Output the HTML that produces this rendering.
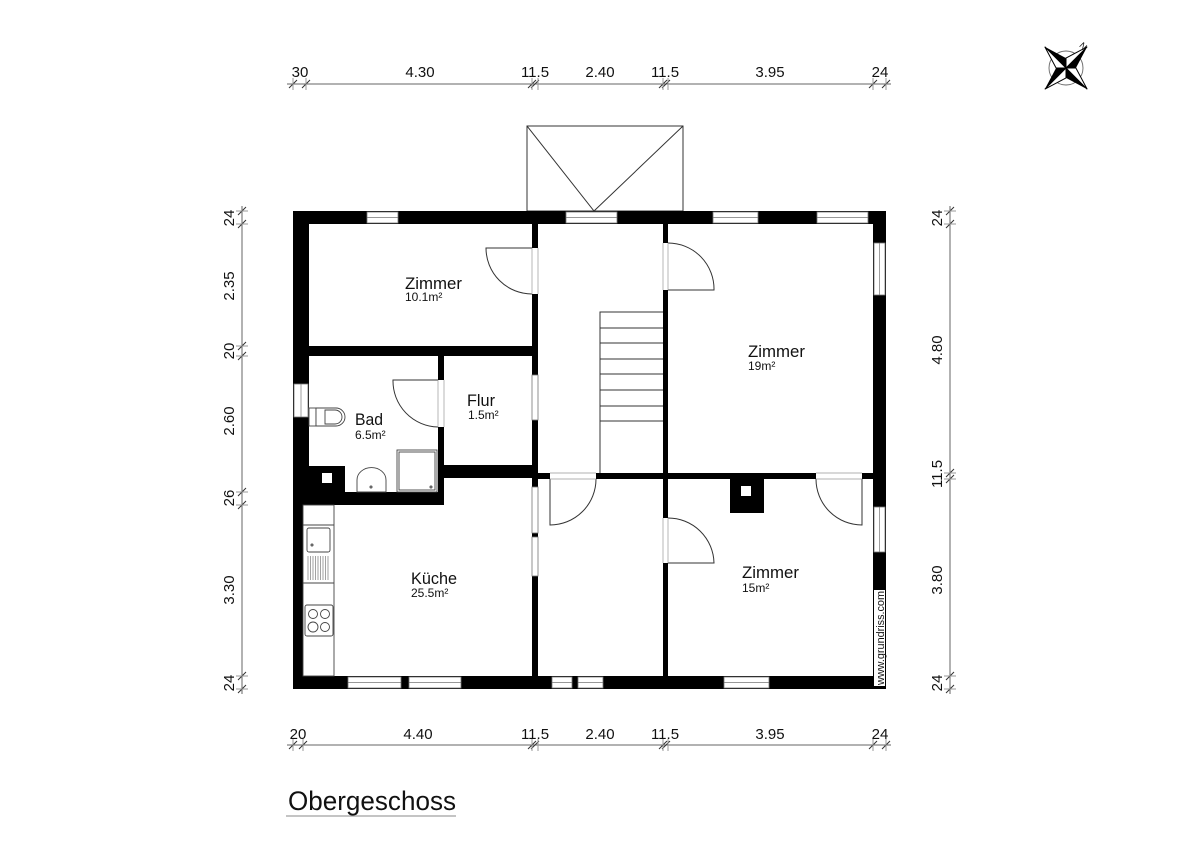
<!DOCTYPE html>
<html><head><meta charset="utf-8"><style>
html,body{margin:0;padding:0;background:#fff;}
svg{display:block}
text{font-family:"Liberation Sans Narrow","Liberation Sans",sans-serif;fill:#111}
</style></head><body>
<svg width="1200" height="855" viewBox="0 0 1200 855" xmlns="http://www.w3.org/2000/svg">
<rect width="1200" height="855" fill="#fff"/>

<!-- dimension lines -->
<g stroke="#666" stroke-width="1" fill="none">
<line x1="287" y1="84" x2="891" y2="84"/>
<line x1="287" y1="745" x2="891" y2="745"/>
<line x1="242" y1="206" x2="242" y2="694"/>
<line x1="950" y1="206" x2="950" y2="694"/>
</g>
<g stroke="#333" stroke-width="1">
<path d="M289,88 l8,-8 M302,88 l8,-8 M528,88 l8,-8 M531,88 l8,-8 M659,88 l8,-8 M662,88 l8,-8 M869,88 l8,-8 M882,88 l8,-8"/>
<path d="M293,78 v12 M306,78 v12 M532,78 v12 M538,78 v12 M663,78 v12 M668,78 v12 M873,78 v12 M886,78 v12" stroke="#999"/>
<path d="M289,749 l8,-8 M299,749 l8,-8 M528,749 l8,-8 M531,749 l8,-8 M659,749 l8,-8 M662,749 l8,-8 M869,749 l8,-8 M882,749 l8,-8"/>
<path d="M293,739 v12 M303,739 v12 M532,739 v12 M538,739 v12 M663,739 v12 M668,739 v12 M873,739 v12 M886,739 v12" stroke="#999"/>
<path d="M238,215 l8,-8 M238,228 l8,-8 M238,350 l8,-8 M238,360 l8,-8 M238,496 l8,-8 M238,509 l8,-8 M238,680 l8,-8 M238,693 l8,-8"/>
<path d="M236,211 h12 M236,224 h12 M236,346 h12 M236,356 h12 M236,492 h12 M236,505 h12 M236,676 h12 M236,689 h12" stroke="#999"/>
<path d="M946,215 l8,-8 M946,228 l8,-8 M946,477 l8,-8 M946,483 l8,-8 M946,680 l8,-8 M946,693 l8,-8"/>
<path d="M944,211 h12 M944,224 h12 M944,473 h12 M944,479 h12 M944,676 h12 M944,689 h12" stroke="#999"/>
</g>
<g font-size="15" text-anchor="middle">
<text x="300" y="77">30</text><text x="420" y="77">4.30</text><text x="535" y="77">11.5</text><text x="600" y="77">2.40</text><text x="665" y="77">11.5</text><text x="770" y="77">3.95</text><text x="880" y="77">24</text>
<text x="298" y="739">20</text><text x="418" y="739">4.40</text><text x="535" y="739">11.5</text><text x="600" y="739">2.40</text><text x="665" y="739">11.5</text><text x="770" y="739">3.95</text><text x="880" y="739">24</text>
<g transform="translate(234,0)">
<text transform="translate(0,218) rotate(-90)">24</text>
<text transform="translate(0,286) rotate(-90)">2.35</text>
<text transform="translate(0,351) rotate(-90)">20</text>
<text transform="translate(0,421) rotate(-90)">2.60</text>
<text transform="translate(0,498) rotate(-90)">26</text>
<text transform="translate(0,590) rotate(-90)">3.30</text>
<text transform="translate(0,683) rotate(-90)">24</text>
</g>
<g transform="translate(942,0)">
<text transform="translate(0,218) rotate(-90)">24</text>
<text transform="translate(0,350) rotate(-90)">4.80</text>
<text transform="translate(0,474) rotate(-90)">11.5</text>
<text transform="translate(0,580) rotate(-90)">3.80</text>
<text transform="translate(0,683) rotate(-90)">24</text>
</g>
</g>

<!-- canopy -->
<g stroke="#333" stroke-width="1" fill="none">
<rect x="527" y="126" width="156" height="85"/>
<path d="M527,126 L594,211 L683,126"/>
</g>

<!-- walls -->
<g fill="#000">
<rect x="293" y="211" width="593" height="13"/>
<rect x="293" y="676" width="593" height="13"/>
<rect x="293" y="211" width="16" height="294"/>
<rect x="293" y="490" width="10" height="199"/>
<rect x="873" y="211" width="13" height="478"/>
<rect x="532" y="211" width="6" height="478"/>
<rect x="663" y="211" width="5" height="478"/>
<rect x="309" y="346" width="229" height="10"/>
<rect x="438" y="346" width="6" height="159"/>
<rect x="444" y="465" width="94" height="13"/>
<rect x="293" y="492" width="151" height="13"/>
<rect x="293" y="466" width="52" height="39"/>
<rect x="532" y="473" width="354" height="6"/>
<rect x="730" y="473" width="34" height="40"/>
</g>
<rect x="322" y="473" width="10" height="10" fill="#fff"/>
<rect x="741" y="486" width="10" height="10" fill="#fff"/>

<!-- windows & openings -->
<g fill="#fff" stroke="#777" stroke-width="0.8">
<rect x="367" y="212" width="31" height="11"/><rect x="566" y="212" width="51" height="11"/><rect x="713" y="212" width="45" height="11"/><rect x="817" y="212" width="51" height="11"/>
<rect x="348" y="677" width="53" height="11"/><rect x="409" y="677" width="52" height="11"/><rect x="552" y="677" width="20" height="11"/><rect x="578" y="677" width="25" height="11"/><rect x="724" y="677" width="45" height="11"/>
<rect x="294" y="384" width="14" height="33"/>
<rect x="874" y="243" width="11" height="52"/><rect x="874" y="507" width="11" height="45"/>
<rect x="532" y="375" width="6" height="45"/><rect x="532" y="487" width="6" height="46"/><rect x="532" y="537" width="6" height="39"/>
</g>
<g stroke="#777" stroke-width="0.7">
<path d="M367,217.5 h31 M566,217.5 h51 M713,217.5 h45 M817,217.5 h51 M348,682.5 h53 M409,682.5 h52 M552,682.5 h20 M578,682.5 h25 M724,682.5 h45 M301,384 v33 M879.5,243 v52 M879.5,507 v45"/>
</g>
<!-- door gaps -->
<g fill="#fff">
<rect x="531" y="248" width="8" height="46"/>
<rect x="437" y="380" width="8" height="47"/>
<rect x="662" y="243" width="7" height="47"/>
<rect x="662" y="518" width="7" height="45"/>
<rect x="550" y="472" width="46" height="8"/>
<rect x="816" y="472" width="46" height="8"/>
</g>
<g stroke="#333" stroke-width="1" fill="none">
<path d="M532,248 H486 A46,46 0 0 0 532,294"/>
<path d="M438,380 H393 A46,46 0 0 0 438,427"/>
<path d="M668,290 H714 A46,46 0 0 0 668,243"/>
<path d="M668,563 H714 A46,46 0 0 0 668,518"/>
<path d="M550,479 V525 A46,46 0 0 0 596,479"/>
<path d="M862,479 V525 A46,46 0 0 1 816,479"/>
<path d="M532,248 v46 M538,248 v46 M438,380 v47 M444,380 v47 M663,243 v47 M668,243 v47 M663,518 v45 M668,518 v45 M550,473 h46 M550,479 h46 M816,473 h46 M816,479 h46" stroke="#999" stroke-width="0.7"/>
<path d="M600,473 V312 H663 M600,328 H663 M600,343 H663 M600,359 H663 M600,374 H663 M600,390 H663 M600,406 H663 M600,421 H663"/>
</g>

<!-- fixtures -->
<g stroke="#444" stroke-width="0.9" fill="#fff">
<rect x="309" y="408" width="7" height="18"/>
<path d="M316,408 H336 A9,9 0 0 1 336,426 H316 Z"/>
<path d="M325,410 H335 A7,7 0 0 1 335,424 H325 Z"/>
<path d="M357,492 V480 A14,12 0 0 1 386,480 V492 Z"/>
<rect x="397" y="450" width="40" height="42"/>
<rect x="399" y="452" width="36" height="38"/>
<rect x="303" y="505" width="31" height="171" fill="none"/>
<path d="M303,525 H334 M303,583 H334"/>
<rect x="307" y="528" width="23" height="24" rx="2"/>
<rect x="305" y="605" width="28" height="31" rx="2"/>
<circle cx="313" cy="614" r="4.5"/><circle cx="325" cy="614" r="4.5"/><circle cx="313" cy="627" r="5"/><circle cx="325" cy="627" r="4.5"/>
</g>
<g stroke="#666" stroke-width="0.6">
<path d="M308,556 v24 M310.5,556 v24 M313,556 v24 M315.5,556 v24 M318,556 v24 M320.5,556 v24 M323,556 v24 M325.5,556 v24 M328,556 v24"/>
</g>
<circle cx="312" cy="545" r="1" fill="none" stroke="#444"/>
<circle cx="371" cy="487" r="1" fill="none" stroke="#444"/>
<circle cx="431" cy="487" r="1" fill="none" stroke="#444"/>

<!-- room labels -->
<g font-size="17" lengthAdjust="spacingAndGlyphs">
<text x="405" y="289" textLength="57" lengthAdjust="spacingAndGlyphs">Zimmer</text>
<text x="748" y="357" textLength="57" lengthAdjust="spacingAndGlyphs">Zimmer</text>
<text x="355" y="425" textLength="28" lengthAdjust="spacingAndGlyphs">Bad</text>
<text x="467" y="406" textLength="28" lengthAdjust="spacingAndGlyphs">Flur</text>
<text x="411" y="584" textLength="46" lengthAdjust="spacingAndGlyphs">Küche</text>
<text x="742" y="578" textLength="57" lengthAdjust="spacingAndGlyphs">Zimmer</text>
</g>
<g font-size="12">
<text x="405" y="301">10.1m²</text>
<text x="748" y="370">19m²</text>
<text x="355" y="439">6.5m²</text>
<text x="468" y="419">1.5m²</text>
<text x="411" y="597">25.5m²</text>
<text x="742" y="592">15m²</text>
</g>
<rect x="874" y="590" width="11" height="96" fill="#fff"/>
<text transform="translate(884,685) rotate(-90)" font-size="11" textLength="94" lengthAdjust="spacingAndGlyphs">www.grundriss.com</text>

<!-- title -->
<text x="288" y="810" font-size="27" textLength="168" lengthAdjust="spacingAndGlyphs">Obergeschoss</text>
<line x1="286" y1="816" x2="456" y2="816" stroke="#888" stroke-width="1"/>

<!-- compass -->
<g transform="translate(1066,68)">
<circle r="17" fill="none" stroke="#666" stroke-width="0.9"/>
<g transform="rotate(45)">
<path d="M0,-30 L7,-7 L0,0 Z M0,30 L-7,7 L0,0 Z M30,0 L7,7 L0,0 Z M-30,0 L-7,-7 L0,0 Z" fill="#000"/>
<path d="M0,-30 L-7,-7 L0,0 Z M0,30 L7,7 L0,0 Z M30,0 L7,-7 L0,0 Z M-30,0 L-7,7 L0,0 Z" fill="#fff" stroke="#000" stroke-width="1"/>
</g>
<text x="14" y="-19" font-size="9" transform="rotate(45 17 -22)">N</text>
</g>
</svg>
</body></html>
